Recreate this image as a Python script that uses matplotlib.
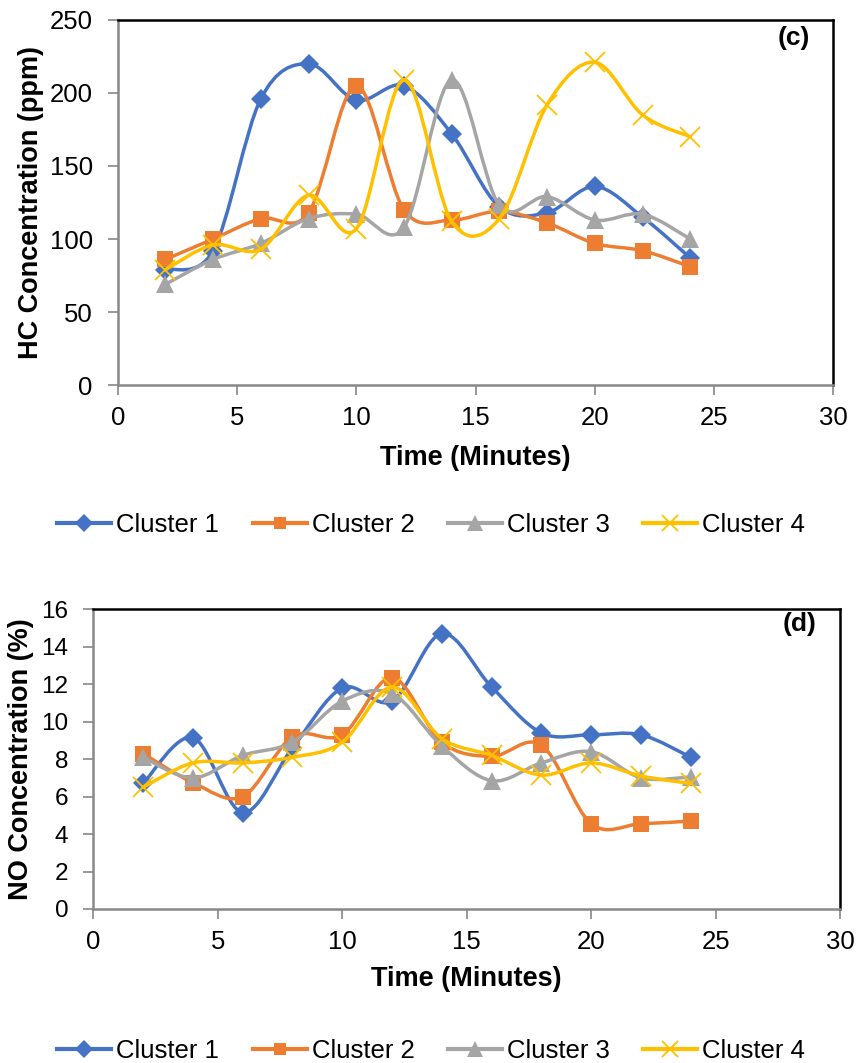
import numpy as np
import matplotlib.pyplot as plt
from matplotlib.path import Path
from matplotlib.patches import PathPatch
from matplotlib.lines import Line2D

plt.rcParams['font.family'] = ['Liberation Sans', 'DejaVu Sans']

time_min = [2, 4, 6, 8, 10, 12, 14, 16, 18, 20, 22, 24]

hc_cluster1 = [79, 92, 196, 220, 195, 205, 172, 122, 118, 136, 115, 87]
hc_cluster2 = [86, 100, 114, 118, 205, 120, 113, 119, 111, 97, 92, 81]
hc_cluster3 = [69, 86, 97, 114, 117, 108, 209, 123, 129, 113, 117, 100]
hc_cluster4 = [79, 96, 93, 130, 107, 209, 112, 114, 192, 221, 185, 170]

no_cluster1 = [6.7, 9.15, 5.15, 8.6, 11.8, 11.1, 14.7, 11.85, 9.4, 9.3, 9.3, 8.1]
no_cluster2 = [8.3, 6.75, 6.0, 9.2, 9.3, 12.35, 8.9, 8.15, 8.75, 4.55, 4.55, 4.7]
no_cluster3 = [8.1, 7.0, 8.2, 8.9, 11.1, 11.5, 8.7, 6.85, 7.8, 8.4, 7.0, 7.05]
no_cluster4 = [6.5, 7.8, 7.8, 8.1, 8.9, 11.85, 9.1, 8.2, 7.15, 7.8, 7.1, 6.7]

labels = ["Cluster 1", "Cluster 2", "Cluster 3", "Cluster 4"]
colors = ["#4472C4", "#ED7D31", "#A5A5A5", "#FFC000"]
markers = ["D", "s", "^", "x"]
msizes = [10.5, 11, 13, 14]


def smooth_path(x, y):
    # excel-like smoothed line: cubic bezier through the points
    pts = np.column_stack([x, y]).astype(float)
    n = len(pts)
    verts = [pts[0]]
    codes = [Path.MOVETO]
    for i in range(n - 1):
        p0 = pts[i - 1] if i > 0 else pts[i]
        p1 = pts[i]
        p2 = pts[i + 1]
        p3 = pts[i + 2] if i + 2 < n else pts[i + 1]
        verts += [p1 + (p2 - p0) / 6, p2 - (p3 - p1) / 6, p2]
        codes += [Path.CURVE4] * 3
    return Path(verts, codes)


def draw_panel(ax, series, ymax, ystep, ylabel, tag, ytick_size, ylpad, xlpad):
    for k, y in enumerate(series):
        z = 3 + 2 * k
        ax.add_patch(PathPatch(smooth_path(time_min, y), fill=False,
                               edgecolor=colors[k], lw=2.5, zorder=z,
                               capstyle='round', joinstyle='round'))
        mew = 1.3 if markers[k] == "x" else 0
        ax.plot(time_min, y, ls='none', marker=markers[k], ms=msizes[k],
                color=colors[k], mec=colors[k], mew=mew, zorder=z + 1)
    ax.set_xlim(0, 30)
    ax.set_ylim(0, ymax)
    ax.set_xticks(np.arange(0, 31, 5))
    ax.set_yticks(np.arange(0, ymax + 0.01, ystep))
    ax.tick_params(axis='x', direction='out', length=7, width=1.2,
                   color='#888888', labelsize=18.5, pad=8)
    ax.tick_params(axis='y', direction='out', length=7, width=1.2,
                   color='#888888', labelsize=ytick_size, pad=11)
    for s in ['left', 'bottom']:
        ax.spines[s].set_color('#888888')
        ax.spines[s].set_linewidth(1.8)
    for s in ['top', 'right']:
        ax.spines[s].set_color('black')
        ax.spines[s].set_linewidth(1.8)
    ax.set_xlabel("Time (Minutes)", fontsize=19.5, fontweight='bold', labelpad=xlpad)
    ax.set_ylabel(ylabel, fontsize=19.5, fontweight='bold', labelpad=ylpad)
    ax.text(0.945, 0.95, tag, transform=ax.transAxes, fontsize=19,
            fontweight='bold', ha='center', va='center')


fig = plt.figure(figsize=(8.61, 10.63), dpi=100)
ax1 = fig.add_axes([0.1367, 0.6378, 0.8313, 0.3434])
ax2 = fig.add_axes([0.1084, 0.1449, 0.8674, 0.2819])

draw_panel(ax1, [hc_cluster1, hc_cluster2, hc_cluster3, hc_cluster4],
           250, 50, "HC Concentration (ppm)", "(c)", 18.5, 4, 11)
draw_panel(ax2, [no_cluster1, no_cluster2, no_cluster3, no_cluster4],
           16, 2, "NO Concentration (%)", "(d)", 17.5, 5, 9)

handles = [Line2D([], [], color=colors[k], lw=3, marker=markers[k],
                  ms=msizes[k] * 0.85, mew=1.3 if markers[k] == "x" else 0)
           for k in range(4)]
for yc in [0.506, 0.011]:
    fig.legend(handles, labels, loc='center', bbox_to_anchor=(0.501, yc),
               ncol=4, frameon=False, fontsize=18.5, handlelength=2.1,
               handletextpad=0.2, columnspacing=1.3, borderpad=0)

fig.savefig("out.png", dpi=100)
